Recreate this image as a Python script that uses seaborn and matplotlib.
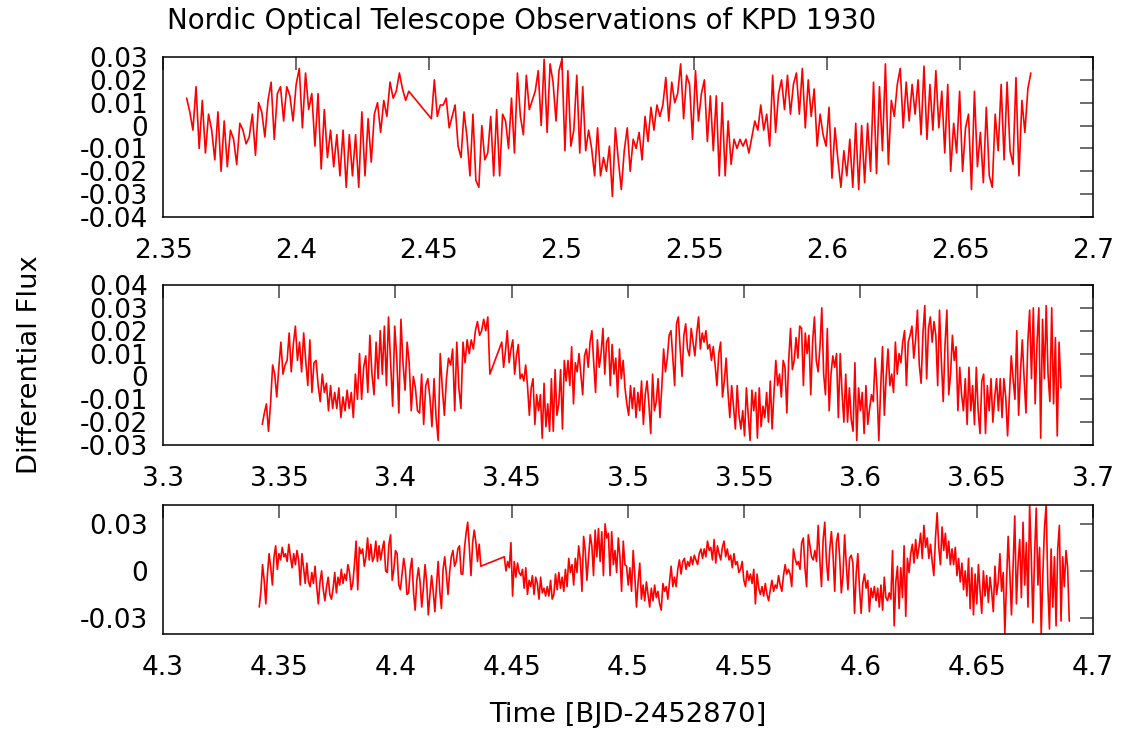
import numpy as np
import pandas as pd
import matplotlib
matplotlib.use("Agg")
import matplotlib.pyplot as plt
import seaborn as sns
from matplotlib.ticker import FuncFormatter, MultipleLocator

# ---------------- data (flux in units of 1e-3) ----------------
title = "Nordic Optical Telescope Observations of KPD 1930"
xlabel = "Time [BJD-2452870]"
ylabel = "Differential Flux"

# segment time ranges (start, end) for each night: before and after the gap
p1_seg_times = [(2.3589, 2.4425), (2.4510, 2.6766)]
p2_seg_times = [(3.3427, 3.4406), (3.4457, 3.6862)]
p3_seg_times = [(4.3414, 4.4367), (4.4468, 4.6898)]

p1_seg1 = [12, 6, -2, 17, -10, 11, -12, 5, -2, -15, 6, -20, 2, -18, -2, -6, -17, 1, -2, -8, -5, 5, -13, 10,
           6, -5, 11, 19, -6, 14, 17, 2, 17, 13, 2, 18, 25, -1, 23, 7, 14, -9, 14, -19, 7, -14, -2, -18, -4,
           -22, -2, -27, -4, -22, -4, -27, 6, -22, 3, -16, 5, 10, -3, 11, 4, 19, 12, 15, 23, 16, 11, 15]
p1_seg2 = [3, 20, 4, 9,
           9, 12, -1, 4, 9, -9, -14, 6, -5, -22, 5, -24, -27, 0, -15, -12, 4, -22, 7, -22, 5, 2, -10, 12,
           -12, 23, 4, -4, 22, 7, 11, 15, 24, 0, 29, -3, 27, 19, 2, 24, 29, -11, 24, -9, -2, 22, -12, 17,
           -11, -2, -10, -22, -1, -22, -14, -20, -9, -31, -1, -15, -28, -11, -1, -20, -6, -10, -3, -15, 4,
           -7, 8, -2, 9, 4, 9, 21, 2, 19, 10, 14, 27, 3, 22, 18, -6, 24, 2, 14, 20, -7, 13, -11, 13, -22,
           10, -22, 2, -17, -6, -10, -6, -9, -6, -12, -5, 2, -2, 9,
           -2, 5, -9, 22, -3, 14, 20, 7, 22, 5, 18, 23, 5, 25, -1, 20, 4, 16, -9, 5, -4, -9, 8, -23, -1,
           -15, -27, -11, -22, -6, -27, 1, -28, 0, -25, 1, -20, 19, -21, 17, -11, 27, -17, 11, 4, 18, 25,
           -1, 19, 2, 18, 5, 20, -4, 26, -6, 18, -2, 24, -1, 15, -12, 18, -20, 1, -12, 15, -20, -1, 5, -28,
           15, -18, -3, -25, 8, -22, -27, 5, -11, 18, -15, 19, -11, -17, 21, -22, 11, -3, 16, 23]

p2_seg1 = [-21, -16, -12, -24, -12, 5, 1, -9, 4, 15, 1, 5, 7, 19, 2, 14, 22, 7, 15, 2, 19, 7, -4, 16, -7,
           6, 7, -4, -11, 1, -7, -3, -15, -4, -14, -7, -14, -5, -18, -9, -15, -6, -14, -7, -18, 1, -10, 10,
           -10, 4, 9, -7, 18, 1, -8, 15, -1, 20, 1, 22, -4, 26, 7, -13, 22, 8, -16, 25, 6, -6, 15, 6, -15,
           0, -5, -15, -16, 1, -21, -4, -1, -9, -22, -1, -18, -28, 10, -5, -17, -1, 8, 5, 12,
           -15, 15, -5, -14, 15, 6, 16, 10, 16, 12, 20, 24, 18, 20, 25, 20, 26, 1]
p2_seg2 = [15, 4, 11, 20, 6, 12, 16, 1, 9, 14, -1, 1, -2, 5, -4, -17, -5, -1, -21, -8, -15, -8, -27, -3,
           -22, -12, -24, -1, -24, 3, -17, -12, 3, -23, 7, -2, 7, -4, 13, -12, 6, 2, 10, 1, -8, 9, 12, 4,
           15, 20, 6, -7, 16, 4, 10, 21, 1, 15, 17, -4, 14, 1, 8, -9, 12, -1, 7, -5, -12, -17, -4, -14, -5,
           -18, -7, -15, -2, -21, -8, -2, -12, -25, 1, -15, -11, -1, -18, -5, 12, 2, 8, 18, 20, 8, -4, 23,
           26, 12, 0, 18, 23, 12, 9, 21, 15, 9, 19, 26, 12, 19, 15, 20, 12, 14, 7, 13, 5, -4, 10, 15, -9,
           -2, 8, -7, -18, -4, -13, -23,
           -4, -17, -23, -15, -26, -5, -17, -28, -6, -15, -7, -27, -5, -22, -13, -18, -7, -20, -2, -23, -7,
           7, -4, 1, -9, 7, 4, -16, 7, 21, 3, 7, 17, 8, 22, 21, -4, 19, 10, 18, -8, 15, 26, 7, 2, 13, 30,
           1, -8, 21, -15, 1, 9, 4, 10, -18, 10, -7, -20, 1, -20, -5, -19, -24, 6, -28, -5, -15, -7, -25,
           -4, -21, -14, -8, -11, 8, -5, -28, -5, 13, -17, 0, 12, -4, 1, -7, 15, 1, 10, 6, 15, 20, -4, 15,
           18, 22, 8, 16, 29, 5, -3, 19, 31, -1, 21, 26, 15, 24, 18, -4, 29, 7, -11, 14, 29, -8, 1, 18, 7,
           13, -15, 4, -8, -15, -1, -21, 4, -15, -4, -21, 4, -15, -25, -2, 1, -25, -4, -15, -1, -20, -9,
           -1, -15, -1, -18, -1, -9, -26, -9, 9, -1, -10, 20, -17, 2, 16, -1, -16, 15, 29, -1, 30, -12, 15,
           30, -27, 25, -1, 31, 1, -11, 30, -12, 17, -26, 15, -5]

p3_seg1 = [-23, -13, 4, -6, -21, -2, 11, 2, -9, 9, 16, 1, 11, 7, 15, 9, 11, 6, 17, 9, 2, 11, 4, 13, 7, -9,
           11, 2, -8, 5, -7, -10, -1, -8, 3, -10, -21, -7, 0, -12, -19, -10, -4, -15, -18, -11, -1, -14, -4,
           -9, 1, -8, -2, -6, 4, -1, -12, -8, 4, 19, -12, 15, 11, 14, 3, 9, 21, 7, 17, 6, 9, 19, 6, 16, 7,
           14, 19, 0, -1, 17, 23, -6, 1, 13, 11, -9, -12, -2, 8, 1, -15, -14, 1, 8, -14, -25, -6, 2, -7,
           -23, -11, 4, -7, -28, -15, -3, -13, -26, -9, 6, -13, -24, 1, 9, -2, -15, -1, 9, 13, 3,
           6, 14, 16, -2, -2, 14, 24, 31, 15, -3, 18, 26, 18, 6, 17, 3]
p3_seg2 = [9, 0, 6, 2, 18, -16, 6, -4, 5, -1, -3, 1, -11, 2, -15, -6, -10, -3, -15, -4, -8, -18, -4, -14,
           -11, -16, -10, -16, -6, -18, -15, -2, -12, -1, -11, -4, -13, 1, -10, 8, -1, 4, -9, 8, -1, 16, 7,
           -13, 22, 13, -6, 9, 23, 16, -3, 26, 9, 27, 6, 25, -3, 30, 21, 24, -3, 25, 4, 13, -1, 21, 9, -13,
           19, 4, 3, -9, 2, -13, 13, -3, -23, -7, 5, -18, -9, -19, -7, -15, -23, -11, -19, -9, -17, -13,
           -21, -25, -8, -13, -10, -18, -7, 3, -10, -4, -10, 1, 7, -2, 6, 8, 1, 6, 3, 9, 4, 10, 7, 4, 11,
           14, 8, 14, 9, 19, 13, 15, 7, 20, 5, 16, 11, 7, 15, 19, 9, 14, 7, 10, 2, 11, 4, 6, -1, 1, 6, -6,
           -10, 0, -6, -2, -8, 1, -21, -2,
           -11, -15, -10, -16, -8, -15, -19, -12, -6, -13, -9, -11, -3, -9, -13, -3, 4, -2, 1, -2, -10, 14,
           8, 4, 6, 1, 18, 21, 2, -10, 23, 16, 9, 7, 13, 6, 29, 7, -10, 20, 31, 6, -6, 14, 25, 10, -13, 18,
           24, 9, -14, -3, 23, 4, -12, 8, 10, 5, -27, -2, 11, -11, -27, -8, -2, -11, -6, -26, -11, -17, -10,
           -19, -11, -23, -9, -25, -4, -17, -19, -14, -18, 13, -35, -7, 3, -24, 2, -17, 16, -29, 8, -1, 11,
           17, 5, 20, 8, 15, 24, 8, 29, 15, 21, 8, 17, 6, -3, 21, 37, 15, 4, 28, 13, 24, 8, 19, 4, 14, 4,
           15, -3, 8, -7, 5, -12, 0, -16, 8, -24, 2, -28, -2, -21, 4, -13, -27, 0, -16, -3, -20, -4, -13,
           -26, 3, -15, -7, 11, -13, -1, -40, -7, 22, -1, -28, 4, 35, -21, 5, 20, -17, 31, -9, 18, -23, 42,
           9, -33, 11, 40, -9, 15, -40, -2, 28, 42, -9, -37, 14, -23, 9, -35, 14, 29, -32, 9, -10, 13, 2,
           -32]

xlims = [(2.35, 2.7), (3.3, 3.7), (4.3, 4.7)]
ylims = [(-0.04, 0.03), (-0.03, 0.04), (-0.0402, 0.042)]
ysteps = [0.01, 0.01, 0.03]
xsteps = [0.05, 0.05, 0.05]


def build(seg_times, segs):
    t, f = [], []
    for (a, b), vals in zip(seg_times, segs):
        t.append(np.linspace(a, b, len(vals)))
        f.append(np.asarray(vals, float) * 1e-3)
    return pd.DataFrame({"time": np.concatenate(t), "flux": np.concatenate(f)})


panels = [build(p1_seg_times, [p1_seg1, p1_seg2]),
          build(p2_seg_times, [p2_seg1, p2_seg2]),
          build(p3_seg_times, [p3_seg1, p3_seg2])]

# ---------------- plotting ----------------
sns.set_theme(style="white")
plt.rcParams["font.family"] = ["DejaVu Sans"]
plt.rcParams["axes.unicode_minus"] = False
plt.rcParams["text.color"] = "black"
plt.rcParams["axes.labelcolor"] = "black"

fig = plt.figure(figsize=(11.31, 7.32), dpi=100)
W, H = 1131, 732
boxes = [(163, 57, 217), (163, 285, 445), (163, 505, 634)]
fmt = FuncFormatter(lambda v, p: "%g" % round(v, 4))

for i, (df, (lx, top, bot)) in enumerate(zip(panels, boxes)):
    ax = fig.add_axes([lx / W, 1 - bot / H, (1093 - lx) / W, (bot - top) / H])
    sns.lineplot(data=df, x="time", y="flux", ax=ax, color="#ff0000", lw=1.2,
                 sort=False, estimator=None)
    ax.set_xlim(*xlims[i])
    ax.set_ylim(*ylims[i])
    ax.xaxis.set_major_locator(MultipleLocator(xsteps[i]))
    ax.yaxis.set_major_locator(MultipleLocator(ysteps[i]))
    ax.xaxis.set_major_formatter(fmt)
    ax.yaxis.set_major_formatter(fmt)
    ax.set_xlabel("")
    ax.set_ylabel("")
    ax.tick_params(direction="in", length=9.5, width=1.1, color="#444444",
                   top=True, right=True, labelsize=19, labelcolor="black")
    ax.tick_params(axis="x", pad=15)
    ax.tick_params(axis="y", pad=10.5)
    for s in ax.spines.values():
        s.set_visible(True)
        s.set_color("black")
        s.set_linewidth(1.1)

fig.text(167 / W, 1 - 21 / H, title, ha="left", va="center", fontsize=19.9)
fig.text(628 / W, 1 - 715 / H, xlabel, ha="center", va="center", fontsize=19.7)
fig.text(30 / W, 1 - 365 / H, ylabel, ha="center", va="center", rotation=90, fontsize=19.7)

fig.savefig("out.png", dpi=100)
